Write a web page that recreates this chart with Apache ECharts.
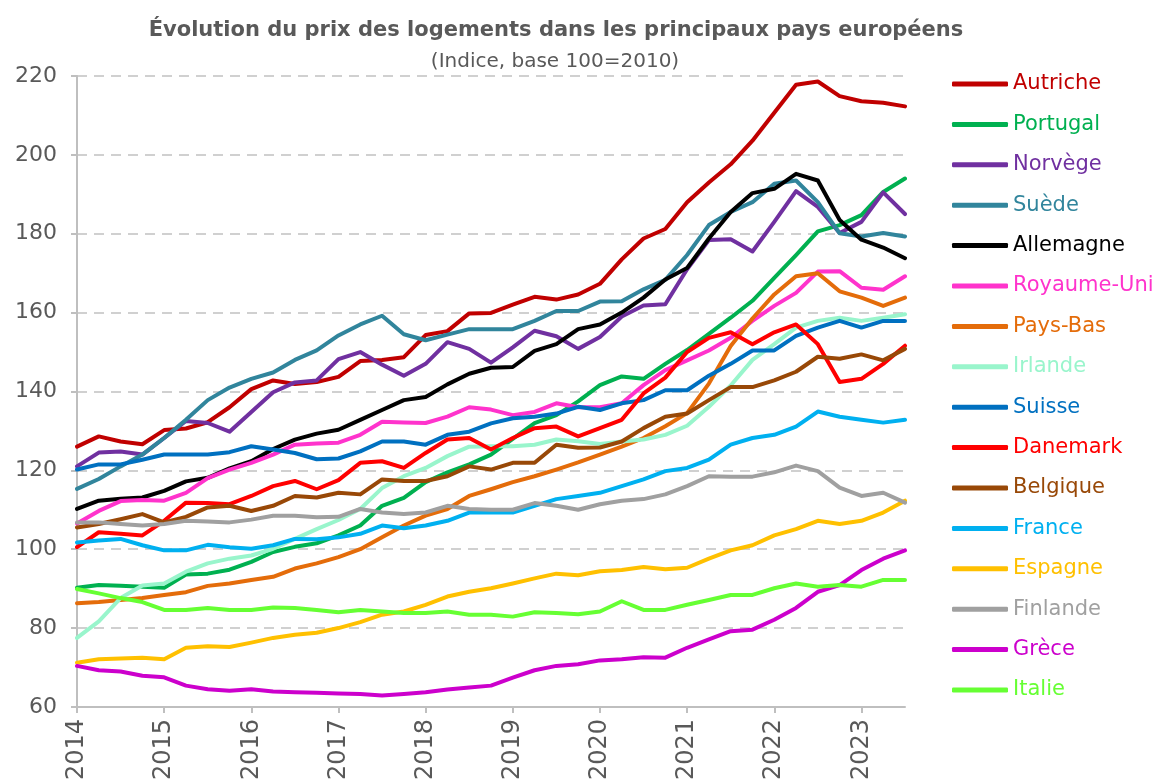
<!DOCTYPE html>
<html>
<head>
<meta charset="utf-8">
<title>Évolution du prix des logements</title>
<script src="https://cdn.jsdelivr.net/npm/echarts@6/dist/echarts.min.js"></script>
<style>
  html, body { margin: 0; padding: 0; background: #ffffff; }
  #chart { width: 1173px; height: 783px; }
</style>
</head>
<body>
<div id="chart"></div>
<script>
// Quarterly periods, 2014 Q1 to 2023 Q3
const quarters = [
  '2014T1','2014T2','2014T3','2014T4',
  '2015T1','2015T2','2015T3','2015T4',
  '2016T1','2016T2','2016T3','2016T4',
  '2017T1','2017T2','2017T3','2017T4',
  '2018T1','2018T2','2018T3','2018T4',
  '2019T1','2019T2','2019T3','2019T4',
  '2020T1','2020T2','2020T3','2020T4',
  '2021T1','2021T2','2021T3','2021T4',
  '2022T1','2022T2','2022T3','2022T4',
  '2023T1','2023T2','2023T3'
];

// House price index (base 100 = 2010), one array per country
const autriche = [126, 128.6, 127.3, 126.6, 130.2, 130.6, 132.2, 136, 140.6, 142.8, 141.9, 142.4, 143.7, 147.7, 148, 148.7, 154.3, 155.3, 159.8, 159.9, 162, 164, 163.3, 164.6, 167.3, 173.5, 178.8, 181.2, 188, 193, 197.6, 203.6, 210.7, 217.8, 218.6, 214.9, 213.6, 213.2, 212.3];
const portugal = [90.2, 90.9, 90.7, 90.5, 90.2, 93.6, 93.8, 94.8, 96.8, 99.3, 100.6, 101.5, 103.5, 106, 111, 113, 117, 119.5, 121.5, 124, 128, 132, 134, 137.5, 141.6, 143.8, 143.2, 147, 150.5, 154.6, 158.7, 163, 168.8, 174.6, 180.6, 182.2, 184.7, 190.6, 194];
const norvege = [121, 124.5, 124.8, 124, 128.2, 132.5, 132, 129.8, 134.8, 139.8, 142.3, 142.8, 148.2, 150, 146.8, 144, 147, 152.5, 150.8, 147.3, 151.2, 155.4, 154, 150.8, 153.8, 159, 161.8, 162.1, 171, 178.4, 178.6, 175.5, 183, 190.8, 186.8, 180.2, 183, 190.5, 185];
const suede = [115.3, 117.8, 121, 124, 128.2, 132.8, 137.8, 141, 143.2, 144.8, 148, 150.4, 154.2, 157, 159.2, 154.5, 153, 154.4, 155.8, 155.8, 155.8, 157.9, 160.4, 160.4, 162.8, 162.9, 165.9, 168.3, 174.6, 182.2, 185.5, 188, 192.7, 193.5, 188, 180.1, 179.3, 180.2, 179.3];
const allemagne = [110.2, 112.3, 112.8, 113.1, 114.8, 117.2, 118.1, 120.5, 122.3, 125.4, 127.8, 129.3, 130.3, 132.8, 135.3, 137.8, 138.6, 141.8, 144.5, 146, 146.2, 150.3, 152, 155.8, 157, 160, 163.8, 168.4, 171.3, 178.8, 185.5, 190.3, 191.4, 195.2, 193.5, 183.5, 178.5, 176.5, 173.8];
const royaumeUni = [106.5, 109.7, 112.2, 112.5, 112.3, 114.3, 118, 120.2, 121.9, 124, 126.5, 126.8, 127, 129, 132.3, 132.1, 132, 133.6, 136, 135.4, 134, 134.8, 137, 136, 136, 137, 141.6, 145.4, 147.9, 150.4, 153.6, 157.9, 161.7, 165, 170.4, 170.5, 166.3, 165.8, 169.2];
const paysBas = [86.3, 86.6, 87.1, 87.6, 88.4, 89.1, 90.7, 91.3, 92.2, 93, 95.1, 96.4, 98, 100, 103, 106, 108.5, 110.2, 113.5, 115.2, 117, 118.5, 120.2, 122, 124, 126, 128.2, 131.2, 134.5, 142, 151.5, 158.5, 164.6, 169.2, 170, 165.4, 163.8, 161.7, 163.8];
const irlande = [77.5, 81.7, 87.6, 90.8, 91.3, 94.3, 96.4, 97.6, 98.4, 100.1, 102.6, 105.1, 107.4, 110.2, 115.5, 118.5, 120.6, 123.6, 126, 126.1, 126.1, 126.5, 127.8, 127.4, 126.7, 127.3, 127.8, 129, 131.3, 136.1, 141.5, 148, 152, 156.2, 157.9, 158.7, 157.9, 158.7, 159.6];
const suisse = [120.2, 121.5, 121.5, 122.7, 124, 124, 124, 124.6, 126.1, 125.3, 124.4, 122.8, 123, 124.8, 127.3, 127.3, 126.5, 129, 129.8, 131.9, 133.2, 133.6, 134.4, 136.1, 135.3, 137, 137.8, 140.3, 140.3, 144, 147, 150.4, 150.4, 154.1, 156.2, 157.9, 156.2, 157.9, 157.9];
const danemark = [100.5, 104.3, 103.9, 103.5, 107.2, 111.8, 111.7, 111.4, 113.5, 116, 117.3, 115.2, 117.5, 121.9, 122.3, 120.6, 124.4, 127.8, 128.2, 125.3, 128.2, 130.7, 131.1, 128.6, 130.7, 132.8, 139.5, 143.5, 150, 153.6, 155, 152, 155, 157, 152, 142.4, 143.2, 147, 151.6];
const belgique = [105.5, 106.4, 107.6, 108.9, 106.8, 108.2, 110.6, 111, 109.7, 111, 113.5, 113.1, 114.3, 113.9, 117.7, 117.3, 117.3, 118.5, 121, 120.2, 121.9, 121.9, 126.5, 125.7, 125.8, 127.3, 130.7, 133.6, 134.4, 137.8, 141.1, 141.1, 142.8, 145, 148.8, 148.3, 149.4, 147.9, 150.8];
const france = [101.7, 102.2, 102.6, 101, 99.7, 99.7, 101.1, 100.5, 100.1, 101, 102.6, 102.5, 103, 103.9, 106, 105.3, 106, 107.2, 109.3, 109.3, 109.3, 111, 112.7, 113.5, 114.3, 116, 117.7, 119.8, 120.6, 122.7, 126.5, 128.2, 129, 131.1, 134.9, 133.6, 132.8, 132.1, 132.8];
const espagne = [71.2, 72.1, 72.3, 72.5, 72.1, 75, 75.4, 75.2, 76.3, 77.5, 78.3, 78.8, 80, 81.5, 83.4, 84.2, 85.9, 88, 89.2, 90.1, 91.3, 92.6, 93.8, 93.4, 94.4, 94.7, 95.5, 94.9, 95.3, 97.6, 99.7, 101, 103.5, 105.1, 107.2, 106.4, 107.2, 109.3, 112.3];
const finlande = [106.8, 106.8, 106.4, 106, 106.4, 107.2, 107, 106.8, 107.5, 108.5, 108.5, 108.1, 108.2, 110.2, 109.3, 108.9, 109.3, 111, 110.2, 110, 110, 111.7, 111, 110, 111.4, 112.3, 112.7, 113.9, 116, 118.5, 118.4, 118.4, 119.5, 121.2, 119.8, 115.6, 113.5, 114.3, 111.8];
const grece = [70.4, 69.3, 69, 67.9, 67.5, 65.4, 64.5, 64.1, 64.5, 63.9, 63.7, 63.6, 63.4, 63.3, 62.9, 63.3, 63.7, 64.4, 64.9, 65.4, 67.4, 69.3, 70.4, 70.8, 71.8, 72.1, 72.6, 72.5, 75, 77.1, 79.2, 79.6, 82.1, 85.1, 89.2, 90.9, 94.7, 97.6, 99.7];
const italie = [89.9, 88.8, 87.6, 86.6, 84.6, 84.6, 85.1, 84.6, 84.6, 85.2, 85.1, 84.6, 84, 84.6, 84.2, 83.8, 83.8, 84.2, 83.4, 83.4, 82.9, 84, 83.8, 83.5, 84.2, 86.8, 84.6, 84.6, 85.9, 87.1, 88.4, 88.4, 90.1, 91.3, 90.5, 90.9, 90.5, 92.2, 92.2];

const countries = [
  { name: 'Autriche',    data: autriche,   color: '#C00000' },
  { name: 'Portugal',    data: portugal,   color: '#00B050' },
  { name: 'Norvège',     data: norvege,    color: '#7030A0' },
  { name: 'Suède',       data: suede,      color: '#31859C' },
  { name: 'Allemagne',   data: allemagne,  color: '#000000' },
  { name: 'Royaume-Uni', data: royaumeUni, color: '#FF33CC' },
  { name: 'Pays-Bas',    data: paysBas,    color: '#E46C0A' },
  { name: 'Irlande',     data: irlande,    color: '#99F5CC' },
  { name: 'Suisse',      data: suisse,     color: '#0070C0' },
  { name: 'Danemark',    data: danemark,   color: '#FF0000' },
  { name: 'Belgique',    data: belgique,   color: '#984807' },
  { name: 'France',      data: france,     color: '#00B0F0' },
  { name: 'Espagne',     data: espagne,    color: '#FFC000' },
  { name: 'Finlande',    data: finlande,   color: '#A0A0A0' },
  { name: 'Grèce',       data: grece,      color: '#CC00CC' },
  { name: 'Italie',      data: italie,     color: '#66FF33' }
];

const FONT = '"DejaVu Sans", sans-serif';
const TEXT_GREY = '#595959';

const chart = echarts.init(document.getElementById('chart'), null, { renderer: 'canvas' });

chart.setOption({
  animation: false,
  backgroundColor: '#ffffff',
  graphic: [
    {
      type: 'text', x: 556, y: 31,
      style: {
        text: 'Évolution du prix des logements dans les principaux pays européens',
        font: 'bold 21px ' + FONT, fill: TEXT_GREY,
        textAlign: 'center', textVerticalAlign: 'middle'
      }
    },
    {
      type: 'text', x: 555, y: 62,
      style: {
        text: '(Indice, base 100=2010)',
        font: '20px ' + FONT, fill: TEXT_GREY,
        textAlign: 'center', textVerticalAlign: 'middle'
      }
    }
  ],
  grid: { left: 77, right: 268, top: 76, bottom: 70, containLabel: false },
  legend: {
    orient: 'vertical',
    left: 947,
    top: 66,
    icon: 'roundRect',
    itemWidth: 56,
    itemHeight: 5,
    itemGap: 14.4,
    textStyle: { fontFamily: FONT, fontSize: 21, lineHeight: 26 },
    data: countries.map(c => ({ name: c.name, textStyle: { color: c.color } }))
  },
  xAxis: {
    type: 'category',
    data: quarters,
    boundaryGap: false,
    axisLine: { show: true, lineStyle: { color: '#BFBFBF', width: 2 } },
    axisTick: { show: true, interval: 3, length: 6, lineStyle: { color: '#BFBFBF', width: 2 } },
    axisLabel: {
      interval: 3,
      rotate: 90,
      margin: 12,
      color: TEXT_GREY,
      fontFamily: FONT,
      fontSize: 24,
      formatter: v => v.slice(0, 4)
    },
    splitLine: { show: false }
  },
  yAxis: {
    type: 'value',
    min: 60,
    max: 220,
    interval: 20,
    axisLine: { show: true, lineStyle: { color: '#BFBFBF', width: 2 } },
    axisTick: { show: true, length: 6, lineStyle: { color: '#BFBFBF', width: 2 } },
    axisLabel: { color: TEXT_GREY, fontFamily: FONT, fontSize: 22, margin: 20 },
    splitLine: { show: true, lineStyle: { color: '#D0D0D0', width: 2, type: [10, 7] } }
  },
  series: countries.map(c => ({
    name: c.name,
    type: 'line',
    data: c.data,
    symbol: 'none',
    smooth: false,
    lineStyle: { width: 4, color: c.color, cap: 'round', join: 'round' },
    itemStyle: { color: c.color },
    emphasis: { disabled: true }
  }))
});
</script>
</body>
</html>
